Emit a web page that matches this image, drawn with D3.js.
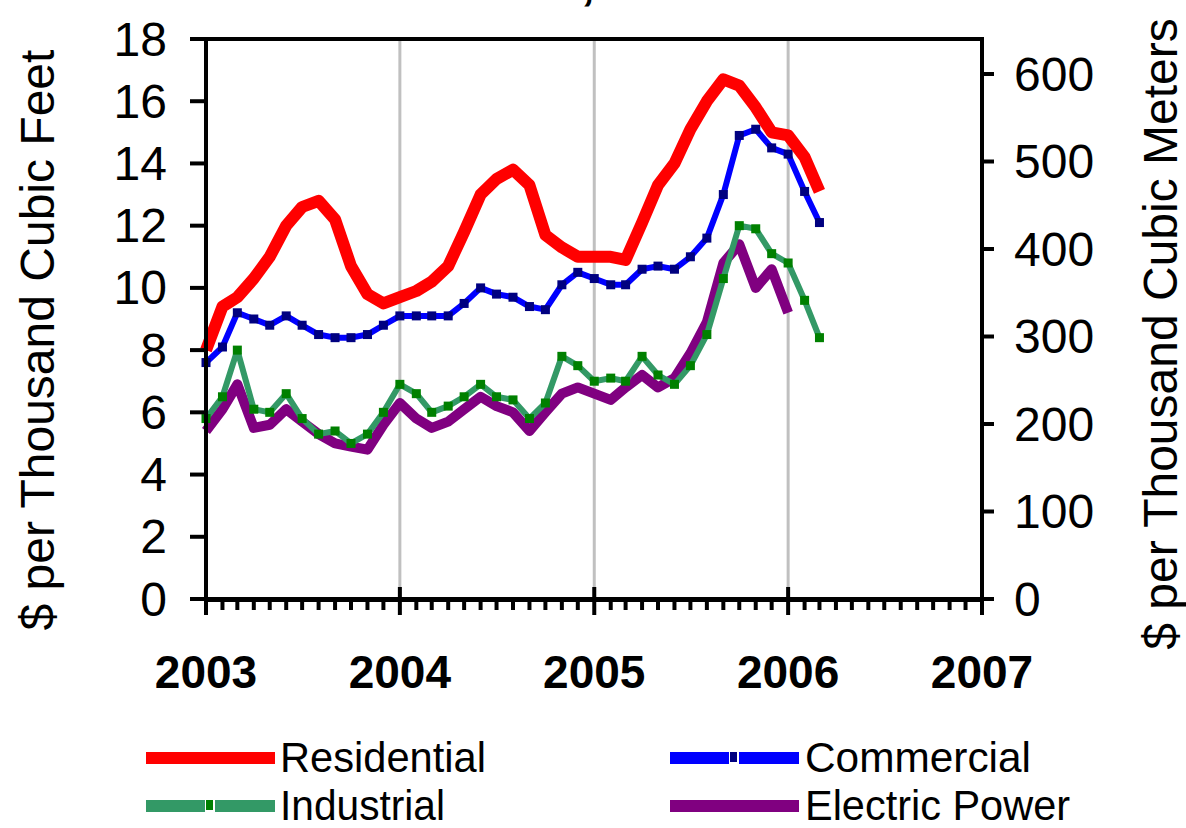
<!DOCTYPE html>
<html>
<head>
<meta charset="utf-8">
<script src="https://cdn.jsdelivr.net/npm/d3@7"></script>
<style>
  body { margin: 0; background: #fff; }
  svg { display: block; font-family: "Liberation Sans", Arial, sans-serif; }
</style>
</head>
<body>
<svg id="chart" width="1186" height="828"></svg>
<script>
// monthly prices, $ per thousand cubic feet
const months = [
  "2003-01","2003-02","2003-03","2003-04","2003-05","2003-06","2003-07","2003-08","2003-09","2003-10","2003-11","2003-12",
  "2004-01","2004-02","2004-03","2004-04","2004-05","2004-06","2004-07","2004-08","2004-09","2004-10","2004-11","2004-12",
  "2005-01","2005-02","2005-03","2005-04","2005-05","2005-06","2005-07","2005-08","2005-09","2005-10","2005-11","2005-12",
  "2006-01","2006-02","2006-03"
];
const residential = [8.0, 9.4, 9.7, 10.3, 11.0, 12.0, 12.6, 12.8, 12.2, 10.7, 9.8, 9.5,
  9.7, 9.9, 10.2, 10.7, 11.8, 13.0, 13.5, 13.8, 13.3, 11.7, 11.3, 11.0,
  11.0, 11.0, 10.9, 12.1, 13.3, 14.0, 15.1, 16.0, 16.7, 16.5, 15.8, 15.0,
  14.9, 14.2, 13.1];
const commercial = [7.6, 8.1, 9.2, 9.0, 8.8, 9.1, 8.8, 8.5, 8.4, 8.4, 8.5, 8.8,
  9.1, 9.1, 9.1, 9.1, 9.5, 10.0, 9.8, 9.7, 9.4, 9.3, 10.1, 10.5,
  10.3, 10.1, 10.1, 10.6, 10.7, 10.6, 11.0, 11.6, 13.0, 14.9, 15.1, 14.5,
  14.3, 13.1, 12.1];
const industrial = [5.8, 6.5, 8.0, 6.1, 6.0, 6.6, 5.8, 5.3, 5.4, 5.0, 5.3, 6.0,
  6.9, 6.6, 6.0, 6.2, 6.5, 6.9, 6.5, 6.4, 5.8, 6.3, 7.8, 7.5,
  7.0, 7.1, 7.0, 7.8, 7.2, 6.9, 7.5, 8.5, 10.3, 12.0, 11.9, 11.1,
  10.8, 9.6, 8.4];
const electricPower = [5.4, 6.1, 6.9, 5.5, 5.6, 6.1, 5.7, 5.3, 5.0, 4.9, 4.8, 5.6,
  6.3, 5.8, 5.5, 5.7, 6.1, 6.5, 6.2, 6.0, 5.4, 6.0, 6.6, 6.8,
  6.6, 6.4, 6.8, 7.2, 6.8, 7.1, 7.9, 8.9, 10.8, 11.4, 10.0, 10.6,
  9.2];

const leftTicks = [0, 2, 4, 6, 8, 10, 12, 14, 16, 18];
const rightTicks = [0, 100, 200, 300, 400, 500, 600];
const yearLabels = ["2003", "2004", "2005", "2006", "2007"];

const series = [
  { name: "Electric Power", values: electricPower, color: "#800080", width: 10 },
  { name: "Industrial", values: industrial, color: "#339966", width: 6, marker: "#008000" },
  { name: "Commercial", values: commercial, color: "#0000ff", width: 6, marker: "#000080" },
  { name: "Residential", values: residential, color: "#ff0000", width: 12 }
];

const parseMonth = d3.timeParse("%Y-%m");
const parseYear = d3.timeParse("%Y");
const dates = months.map(parseMonth);

const plot = { left: 206, right: 982, top: 39, bottom: 599 };

const x = d3.scaleTime()
    .domain([parseYear(yearLabels[0]), parseYear(yearLabels[yearLabels.length - 1])])
    .range([plot.left, plot.right]);
const y = d3.scaleLinear().domain([0, 18]).range([plot.bottom, plot.top]);
const yRight = d3.scaleLinear().domain([0, 640]).range([plot.bottom, plot.top]);

const svg = d3.select("#chart");

// title, almost entirely above the top edge
svg.append("text")
    .attr("x", 592).attr("y", 0)
    .attr("text-anchor", "middle")
    .attr("textLength", 514)
    .attr("lengthAdjust", "spacingAndGlyphs")
    .style("font-size", "40px")
    .style("font-weight", "bold")
    .text("in the U.S., 2003-2006");

// vertical year gridlines
svg.append("g").selectAll("line")
    .data(yearLabels.slice(1, -1))
    .join("line")
    .attr("x1", d => x(parseYear(d))).attr("x2", d => x(parseYear(d)))
    .attr("y1", plot.top).attr("y2", plot.bottom)
    .attr("stroke", "#c0c0c0")
    .attr("stroke-width", 3);

// series lines
const lines = svg.append("g");
series.forEach(s => {
    const pts = s.values.map((v, i) => ({ date: dates[i], v }));
    const line = d3.line()
        .defined(d => d.v != null)
        .x(d => x(d.date))
        .y(d => y(d.v));
    lines.append("path")
        .datum(pts)
        .attr("fill", "none")
        .attr("stroke", s.color)
        .attr("stroke-width", s.width)
        .attr("stroke-linejoin", "round")
        .attr("d", line);
    if (s.marker) {
        lines.append("g").selectAll("rect")
            .data(pts)
            .join("rect")
            .attr("x", d => x(d.date) - 4.5)
            .attr("y", d => y(d.v) - 4.5)
            .attr("width", 9).attr("height", 9)
            .attr("fill", s.marker);
    }
});

// plot frame
svg.append("rect")
    .attr("x", plot.left).attr("y", plot.top)
    .attr("width", plot.right - plot.left)
    .attr("height", plot.bottom - plot.top)
    .attr("fill", "none")
    .attr("stroke", "#000")
    .attr("stroke-width", 4);
svg.append("line")
    .attr("x1", plot.left - 2).attr("x2", plot.right + 2)
    .attr("y1", plot.bottom + 0.5).attr("y2", plot.bottom + 0.5)
    .attr("stroke", "#000").attr("stroke-width", 5);

// left axis
const leftAxis = svg.append("g");
leftAxis.selectAll("line")
    .data(leftTicks)
    .join("line")
    .attr("x1", plot.left - 16).attr("x2", plot.left)
    .attr("y1", d => y(d)).attr("y2", d => y(d))
    .attr("stroke", "#000").attr("stroke-width", 4);
leftAxis.selectAll("text")
    .data(leftTicks)
    .join("text")
    .attr("x", 167)
    .attr("y", d => y(d))
    .attr("text-anchor", "end")
    .attr("dominant-baseline", "central")
    .style("font-size", "48px")
    .text(d => d);

// right axis
const rightAxis = svg.append("g");
rightAxis.selectAll("line")
    .data(rightTicks)
    .join("line")
    .attr("x1", plot.right).attr("x2", plot.right + 12)
    .attr("y1", d => yRight(d)).attr("y2", d => yRight(d))
    .attr("stroke", "#000").attr("stroke-width", 4);
rightAxis.selectAll("text")
    .data(rightTicks)
    .join("text")
    .attr("x", 1014)
    .attr("y", d => yRight(d))
    .attr("dominant-baseline", "central")
    .style("font-size", "48px")
    .text(d => d);

// x axis: monthly minor ticks, yearly major ticks
const monthTicks = x.ticks(d3.timeMonth.every(1));
svg.append("g").selectAll("line")
    .data(monthTicks)
    .join("line")
    .attr("x1", d => x(d)).attr("x2", d => x(d))
    .attr("y1", d => d.getMonth() === 0 ? plot.bottom - 12 : plot.bottom)
    .attr("y2", d => d.getMonth() === 0 ? plot.bottom + 16 : plot.bottom + 11)
    .attr("stroke", "#000").attr("stroke-width", 4);
svg.append("g").selectAll("text")
    .data(yearLabels)
    .join("text")
    .attr("x", d => x(parseYear(d)))
    .attr("y", 672)
    .attr("text-anchor", "middle")
    .attr("dominant-baseline", "central")
    .style("font-size", "46px")
    .style("font-weight", "bold")
    .text(d => d);

// axis titles
svg.append("text")
    .attr("transform", "translate(37,340) rotate(-90)")
    .attr("text-anchor", "middle")
    .attr("dominant-baseline", "central")
    .style("font-size", "48px")
    .text("$ per Thousand Cubic Feet");
svg.append("text")
    .attr("transform", "translate(1160,334) rotate(-90)")
    .attr("text-anchor", "middle")
    .attr("dominant-baseline", "central")
    .style("font-size", "48px")
    .text("$ per Thousand Cubic Meters");

// legend
const legendItems = [
    { s: series[3], x: 146, y: 758, tx: 280, len: 206 },
    { s: series[2], x: 670, y: 758, tx: 805, len: 226 },
    { s: series[1], x: 146, y: 806, tx: 280, len: 165 },
    { s: series[0], x: 670, y: 806, tx: 805, len: 265 }
];
const legend = svg.append("g");
legendItems.forEach(item => {
    const g = legend.append("g");
    g.append("line")
        .attr("x1", item.x).attr("x2", item.x + 129)
        .attr("y1", item.y).attr("y2", item.y)
        .attr("stroke", item.s.color)
        .attr("stroke-width", 12);
    if (item.s.marker) {
        g.append("rect")
            .attr("x", item.x + 59).attr("y", item.y - 6)
            .attr("width", 10).attr("height", 12)
            .attr("fill", "#fff");
        g.append("rect")
            .attr("x", item.x + 60).attr("y", item.y - 6)
            .attr("width", 7).attr("height", 10)
            .attr("fill", item.s.marker);
    }
    g.append("text")
        .attr("x", item.tx).attr("y", item.y + 14)
        .attr("textLength", item.len)
        .attr("lengthAdjust", "spacingAndGlyphs")
        .style("font-size", "42px")
        .text(item.s.name);
});
</script>
</body>
</html>
